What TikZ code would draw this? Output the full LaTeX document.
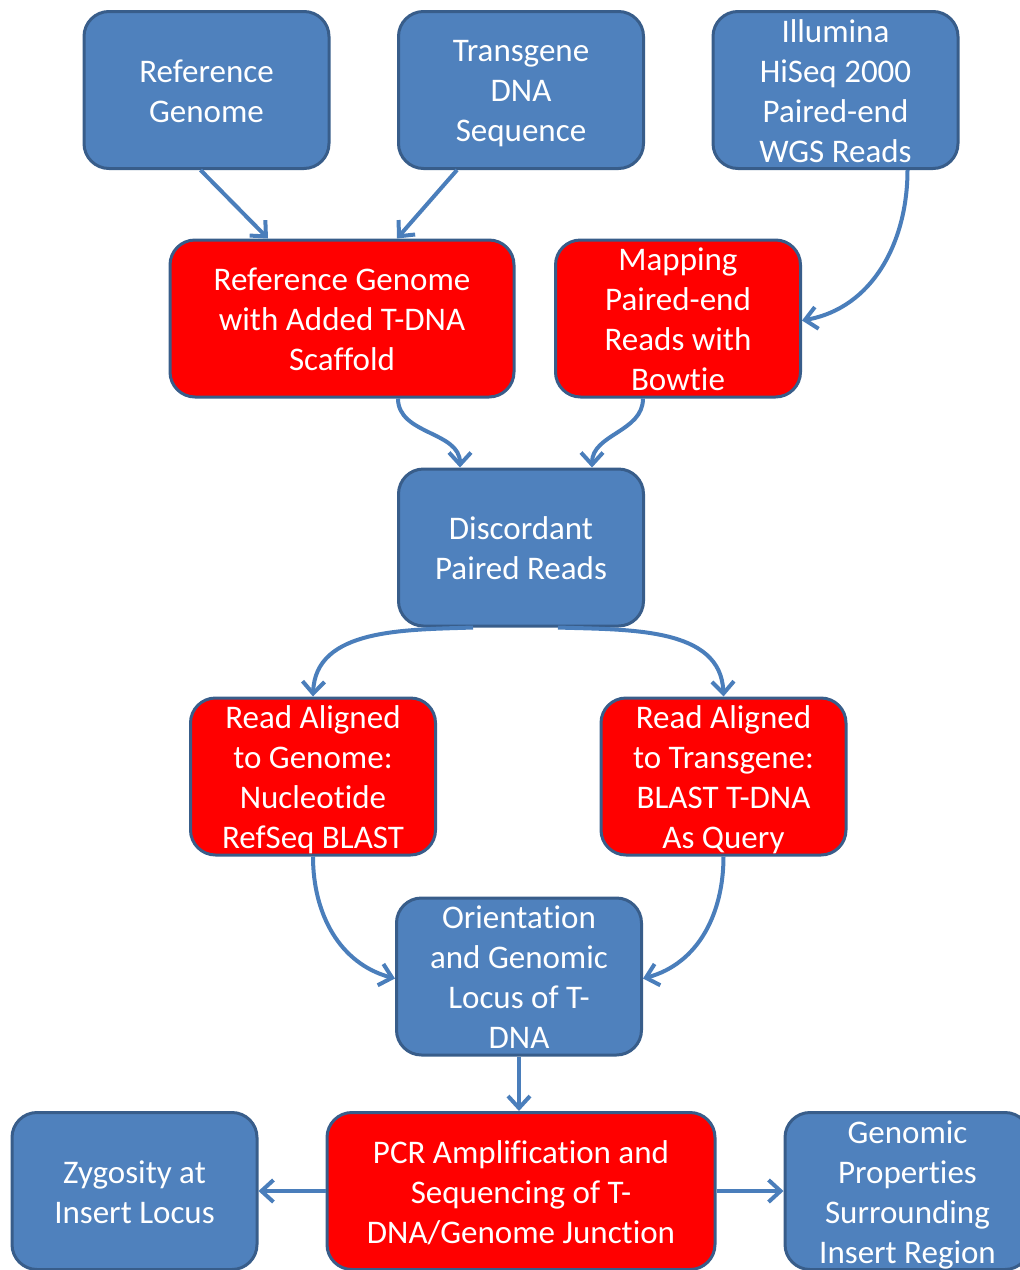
\documentclass[tikz,border=0pt]{standalone}
\usepackage{fontspec}
\setmainfont{Carlito}[Ligatures=NoCommon]
\usepackage{xcolor}
\usetikzlibrary{positioning,arrows.meta}

\definecolor{boxblue}{HTML}{4F81BD}
\definecolor{boxline}{HTML}{385D8A}
\definecolor{boxred}{HTML}{FF0000}
\definecolor{arrowblue}{HTML}{4A7EBB}

\tikzset{
  stepbox/.style={draw=boxline, line width=1.5pt, rounded corners=12.5pt,
    minimum width=122.5pt, minimum height=78.5pt, inner sep=0pt},
  boxtext/.style={text=white, align=center, font=\fontsize{16.5}{20}\selectfont,
    execute at begin node=\strut, execute at end node=\strut,
    inner sep=0pt, yshift=-3.5pt},
  bluebox/.style={stepbox, fill=boxblue},
  redbox/.style={stepbox, fill=boxred},
  flow/.style={draw=arrowblue, line width=2pt,
    -{Straight Barb[length=6pt,width=11pt]}},
}

\begin{document}
\begin{tikzpicture}[x=0.5pt,y=-0.5pt]
    \useasboundingbox (0,0) rectangle (1020,1270);
    \clip (0,0) rectangle (1020,1270);
    % inputs
    \node[bluebox, label={[boxtext]center:{Reference\\Genome}}] (refgen) at (206.5,90) {};
    \node[bluebox, label={[boxtext]center:{Transgene\\DNA\\Sequence}}] (transgene) at (521,90) {};
    \node[bluebox, label={[boxtext]center:{Illumina\\HiSeq 2000\\Paired-end\\WGS Reads}}] (illumina) at (835.5,90) {};
    % preparation
    \node[redbox, minimum width=172pt, label={[boxtext]center:{Reference Genome\\with Added T-DNA\\Scaffold}}] (refscaf) at (342,318.5) {};
    \node[redbox, label={[boxtext]center:{Mapping\\Paired-end\\Reads with\\Bowtie}}] (mapping) at (678,318.5) {};
    \node[bluebox, label={[boxtext]center:{Discordant\\Paired Reads}}] (discord) at (521,547.5) {};
    % alignment
    \node[redbox, label={[boxtext]center:{Read Aligned\\to Genome:\\Nucleotide\\RefSeq BLAST}}] (alngen) at (313,776.5) {};
    \node[redbox, label={[boxtext]center:{Read Aligned\\to Transgene:\\BLAST T-DNA\\As Query}}] (alntg) at (723.5,776.5) {};
    \node[bluebox, label={[boxtext]center:{Orientation\\and Genomic\\Locus of T-\\DNA}}] (orient) at (519,976.5) {};
    % results
    \node[redbox, minimum width=194pt, label={[boxtext]center:{PCR Amplification and\\Sequencing of T-\\DNA/Genome Junction}}] (pcr) at (521,1191) {};
    \node[bluebox, label={[boxtext]center:{Zygosity at\\Insert Locus}}] (zyg) at (134.5,1191) {};
    \node[bluebox, label={[boxtext]center:{Genomic\\Properties\\Surrounding\\Insert Region}}] (genprop) at (907.5,1191) {};

    \draw[flow] ([xshift=-3pt]refgen.south) -- ([xshift=-37pt]refscaf.north);
    \draw[flow] ([xshift=-32pt]transgene.south) -- ([xshift=27.5pt]refscaf.north);
    \draw[flow] ([xshift=36pt]illumina.south) to[out=-90,in=10] ([yshift=-1pt]mapping.east);
    \draw[flow] ([xshift=28pt]refscaf.south) to[out=-90,in=90] ([xshift=-30.5pt]discord.north);
    \draw[flow] ([xshift=-17.5pt]mapping.south) to[out=-90,in=90] ([xshift=35.5pt]discord.north);
    \draw[flow] ([xshift=-24pt]discord.south) to[out=182,in=88] (alngen.north);
    \draw[flow] ([xshift=18.5pt]discord.south) to[out=-2,in=92] (alntg.north);
    \draw[flow] (alngen.south) to[out=-90,in=165] ([yshift=-1pt]orient.west);
    \draw[flow] (alntg.south) to[out=-90,in=15] ([yshift=-1pt]orient.east);
    \draw[flow] (orient.south) -- (orient.south |- pcr.north);
    \draw[flow] (pcr.west) -- (zyg.east);
    \draw[flow] (pcr.east) -- (genprop.west);
\end{tikzpicture}
\end{document}
